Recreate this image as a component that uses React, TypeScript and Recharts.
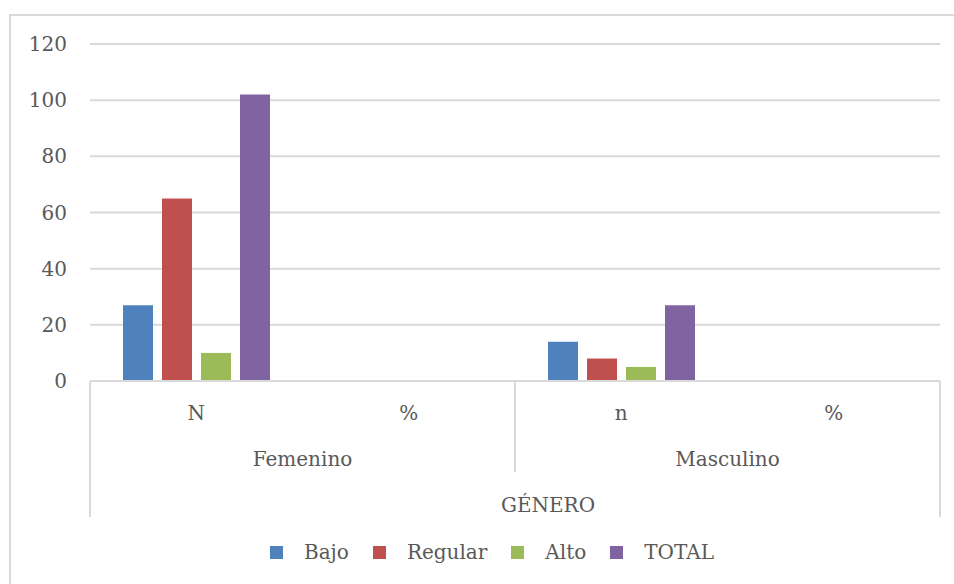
import React from "react"
import { BarChart, Bar, XAxis, YAxis, CartesianGrid, Legend } from "recharts"

const categories = ["N", "%", "n", "%"]
const genders = ["Femenino", "Femenino", "Masculino", "Masculino"]
const topGroup = ["GÉNERO", "GÉNERO", "GÉNERO", "GÉNERO"]
const bajo = [27, null, 14, null]
const regular = [65, null, 8, null]
const alto = [10, null, 5, null]
const total = [102, null, 27, null]
const yTicks = [0, 20, 40, 60, 80, 100, 120]

const seriesNames = ["Bajo", "Regular", "Alto", "TOTAL"]
const seriesColors = ["#4F81BD", "#C0504D", "#9BBB59", "#8064A2"]

const data = categories.map((name, i) => ({
  name,
  gender: genders[i],
  top: topGroup[i],
  Bajo: bajo[i],
  Regular: regular[i],
  Alto: alto[i],
  TOTAL: total[i],
}))

const FONT = "'DejaVu Serif', serif"
const TEXT = "#595959"
const LINE = "#d9d9d9"

const CategoryTick = ({ x, y, payload }: any) => (
  <text x={x} y={y + 39} textAnchor="middle" fill={TEXT} fontSize={20} fontFamily={FONT}>
    {payload.value}
  </text>
)

// second level: gender labels plus the short separator between the two groups
const GenderTick = ({ x, y, payload, index }: any) => {
  const half = payload.offset ?? 0
  return (
    <g>
      {index > 0 && <line x1={x - half} x2={x - half} y1={y - 45} y2={y + 46} stroke={LINE} strokeWidth={2} />}
      <text x={x} y={y + 40} textAnchor="middle" fill={TEXT} fontSize={20} fontFamily={FONT}>
        {payload.value}
      </text>
    </g>
  )
}

// third level: the outer separators run from the axis line to the bottom
const TopTick = ({ x, y, payload }: any) => {
  const half = payload.offset ?? 0
  return (
    <g>
      <line x1={x - half} x2={x - half} y1={y - 90} y2={y + 46} stroke={LINE} strokeWidth={2} />
      <line x1={x + half} x2={x + half} y1={y - 90} y2={y + 46} stroke={LINE} strokeWidth={2} />
      <text x={x + 33} y={y + 41} textAnchor="middle" fill={TEXT} fontSize={20} fontFamily={FONT}>
        {payload.value}
      </text>
    </g>
  )
}

const renderLegend = ({ payload }: any) => {
  const items = [...(payload || [])].sort(
    (a: any, b: any) => seriesNames.indexOf(a.value) - seriesNames.indexOf(b.value)
  )
  return (
    <div
      style={{
        display: "flex",
        justifyContent: "center",
        alignItems: "center",
        height: 28,
        paddingLeft: 30,
        fontFamily: FONT,
        fontSize: 20,
        color: TEXT,
      }}
    >
      {items.map((entry: any, i: number) => (
        <div key={entry.value} style={{ display: "flex", alignItems: "center", marginRight: i < items.length - 1 ? 24 : 0 }}>
          <span style={{ width: 13, height: 13, background: entry.color, marginRight: 21, display: "inline-block" }} />
          <span>{entry.value}</span>
        </div>
      ))}
    </div>
  )
}

export default function App() {
  return (
    <div style={{ position: "absolute", left: 0, top: 0, width: 954, height: 584, overflow: "hidden", background: "#fff" }}>
      <div style={{ position: "absolute", left: 9, top: 14, width: 1000, height: 1000, border: `2px solid ${LINE}`, boxSizing: "border-box" }} />
      <div style={{ position: "absolute", left: 0, top: 0 }}>
        <BarChart
          width={954}
          height={584}
          data={data}
          margin={{ top: 44, right: 14, left: 30, bottom: 40 }}
          barSize={30}
          barGap={9}
        >
          <CartesianGrid vertical={false} stroke={LINE} strokeWidth={2} />
          <XAxis
            dataKey="name"
            xAxisId={0}
            height={45}
            tickSize={0}
            tickMargin={0}
            tickLine={false}
            axisLine={{ stroke: LINE, strokeWidth: 2 }}
            tick={<CategoryTick />}
            interval={0}
          />
          <XAxis
            dataKey="gender"
            xAxisId={1}
            height={45}
            allowDuplicatedCategory={false}
            tickSize={0}
            tickMargin={0}
            tickLine={false}
            axisLine={false}
            tick={<GenderTick />}
            interval={0}
          />
          <XAxis
            dataKey="top"
            xAxisId={2}
            height={45}
            allowDuplicatedCategory={false}
            tickSize={0}
            tickMargin={0}
            tickLine={false}
            axisLine={false}
            tick={<TopTick />}
            interval={0}
          />
          <YAxis
            width={60}
            domain={[0, 120]}
            ticks={yTicks}
            axisLine={false}
            tickLine={false}
            tickMargin={17}
            tick={{ fill: TEXT, fontSize: 20, fontFamily: FONT }}
          />
          <Legend
            verticalAlign="bottom"
            content={renderLegend}
            wrapperStyle={{ top: 538, left: 0, width: 954, height: 28 }}
          />
          {seriesNames.map((key, i) => (
            <Bar key={key} dataKey={key} xAxisId={0} fill={seriesColors[i]} isAnimationActive={false} />
          ))}
        </BarChart>
      </div>
    </div>
  )
}
